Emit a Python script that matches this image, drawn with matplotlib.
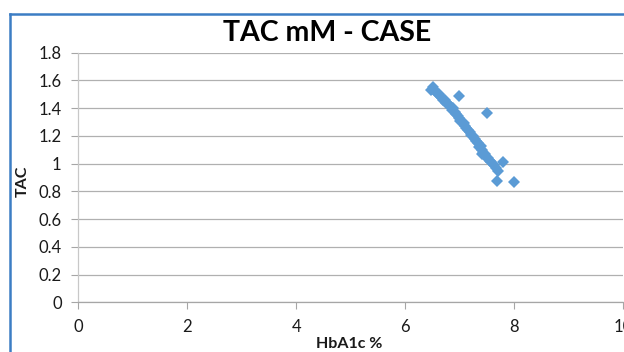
import matplotlib
matplotlib.use("Agg")
import matplotlib.pyplot as plt
from matplotlib.lines import Line2D

# HbA1c % vs TAC (mM), case group
hba1c = [6.48, 6.51, 6.53, 6.56, 6.59, 6.62, 6.64, 6.67, 6.70, 6.72,
         6.75, 6.78, 6.80, 6.83, 6.86, 6.88, 6.91, 6.93, 6.96, 6.99,
         7.01, 7.04, 7.07, 7.10, 7.12, 7.15, 7.18, 7.21, 7.24, 7.27,
         7.30, 7.33, 7.35, 7.38, 7.40, 7.43, 7.40, 7.46, 7.48, 7.51,
         7.55, 7.58, 7.62, 7.66, 7.70,
         6.99, 7.49, 7.79, 7.68, 7.99]
tac = [1.53, 1.55, 1.53, 1.52, 1.51, 1.50, 1.49, 1.47, 1.46, 1.46,
       1.44, 1.43, 1.42, 1.41, 1.39, 1.40, 1.37, 1.36, 1.34, 1.33,
       1.31, 1.30, 1.29, 1.27, 1.26, 1.24, 1.23, 1.21, 1.20, 1.18,
       1.16, 1.15, 1.12, 1.13, 1.10, 1.08, 1.07, 1.07, 1.05, 1.04,
       1.02, 1.01, 0.99, 0.97, 0.95,
       1.49, 1.365, 1.015, 0.876, 0.87]

x_ticks = [0, 2, 4, 6, 8, 10]
y_ticks = [0, 0.2, 0.4, 0.6, 0.8, 1, 1.2, 1.4, 1.6, 1.8]
y_tick_labels = ["0", "0.2", "0.4", "0.6", "0.8", "1", "1.2", "1.4", "1.6", "1.8"]

plt.rcParams["font.family"] = ["Lato", "DejaVu Sans"]

fig = plt.figure(figsize=(6.24, 3.52), dpi=100)
ax = fig.add_axes([0.1255, 0.1412, 0.8734, 0.7091])

ax.plot(hba1c, tac, linestyle="none", marker="D", markersize=6.3,
        color="#5B9BD5", markeredgewidth=0)

ax.set_xlim(0, 10)
ax.set_ylim(0, 1.8)
ax.set_xticks(x_ticks)
ax.set_xticklabels([str(t) for t in x_ticks])
ax.set_yticks(y_ticks)
ax.set_yticklabels(y_tick_labels)
ax.tick_params(axis="both", labelsize=12, colors="#1a1a1a", length=5,
               width=0.8, direction="out")
ax.tick_params(axis="x", color="#a6a6a6", pad=7)
ax.tick_params(axis="y", color="#a6a6a6", pad=7)
for lbl in ax.get_xticklabels():
    lbl.set_clip_on(False)

ax.grid(axis="y", color="#b0b0b0", linewidth=0.9)
ax.set_axisbelow(True)
for side in ["top", "right"]:
    ax.spines[side].set_visible(False)
ax.spines["left"].set_color("#c8c8c8")
ax.spines["bottom"].set_color("#a6a6a6")
ax.spines["left"].set_linewidth(0.9)
ax.spines["bottom"].set_linewidth(0.9)

fig.text(0.5235, 0.905, "TAC mM - CASE", ha="center", va="center",
         fontsize=20.5, fontweight="bold", color="black")
fig.text(0.036, 0.486, "TAC", ha="center", va="center", rotation=90,
         fontsize=11.5, fontweight="bold", color="#1a1a1a")
fig.text(0.559, 0.024, "HbA1c %", ha="center", va="center",
         fontsize=11.5, fontweight="bold", color="#1a1a1a")

# chart border (the right and bottom edges fall outside the crop)
border = "#3C7DC4"
fig.add_artist(Line2D([9.5 / 624, 9.5 / 624], [0, 1 - 13.5 / 352],
                      transform=fig.transFigure, color=border, linewidth=1.8))
fig.add_artist(Line2D([9.5 / 624, 1], [1 - 13.5 / 352, 1 - 13.5 / 352],
                      transform=fig.transFigure, color=border, linewidth=1.8))

fig.savefig("out.png", dpi=100)
